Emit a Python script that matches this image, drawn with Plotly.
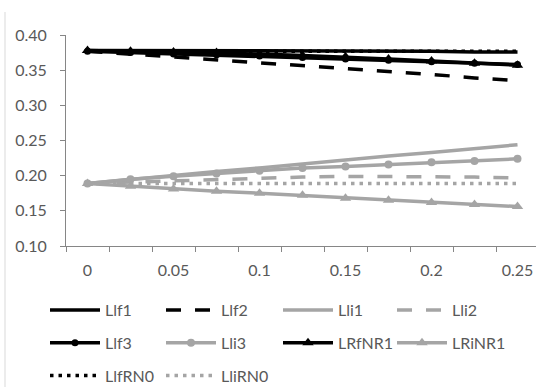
import plotly.graph_objects as go

# category values along the horizontal axis
x_vals = [0, 0.025, 0.05, 0.075, 0.1, 0.125, 0.15, 0.175, 0.2, 0.225, 0.25]
x_tick_vals = [0, 0.05, 0.1, 0.15, 0.2, 0.25]
x_tick_text = ["0", "0.05", "0.1", "0.15", "0.2", "0.25"]
y_tick_vals = [0.10, 0.15, 0.20, 0.25, 0.30, 0.35, 0.40]

# series
Llf1 = [0.378, 0.378, 0.378, 0.378, 0.378, 0.377, 0.377, 0.377, 0.377, 0.376, 0.376]
Llf2 = [0.377, 0.373, 0.369, 0.365, 0.361, 0.356, 0.352, 0.348, 0.344, 0.339, 0.335]
Lli1 = [0.189, 0.195, 0.200, 0.206, 0.211, 0.217, 0.222, 0.228, 0.233, 0.239, 0.244]
Lli2 = [0.189, 0.191, 0.193, 0.195, 0.197, 0.198, 0.199, 0.199, 0.199, 0.198, 0.197]
Llf3 = [0.377, 0.375, 0.373, 0.372, 0.370, 0.368, 0.366, 0.364, 0.362, 0.360, 0.358]
Lli3 = [0.189, 0.195, 0.199, 0.203, 0.207, 0.211, 0.213, 0.216, 0.219, 0.221, 0.224]
LRfNR1 = [0.378, 0.377, 0.376, 0.375, 0.373, 0.371, 0.369, 0.366, 0.363, 0.360, 0.357]
LRiNR1 = [0.189, 0.185, 0.181, 0.178, 0.175, 0.172, 0.168, 0.165, 0.162, 0.159, 0.156]
LlfRN0 = [0.377, 0.377, 0.377, 0.377, 0.377, 0.377, 0.377, 0.377, 0.377, 0.377, 0.377]
LliRN0 = [0.189, 0.189, 0.189, 0.189, 0.189, 0.189, 0.189, 0.189, 0.189, 0.189, 0.189]

BLACK = "#000000"
GREY = "#A5A5A5"
TEXT = "#595959"
AXIS = "#868686"
FONT = "Lato"
LW = 3.5
DASH = "15px,14px"
DOT = "3.5px,5px"

series = [
    # name, values, colour, dash, marker symbol, marker size, legend column
    ("Llf1", Llf1, BLACK, "solid", None, 0, "legend"),
    ("Llf2", Llf2, BLACK, DASH, None, 0, "legend2"),
    ("Lli1", Lli1, GREY, "solid", None, 0, "legend3"),
    ("Lli2", Lli2, GREY, DASH, None, 0, "legend4"),
    ("Llf3", Llf3, BLACK, "solid", "circle", 7, "legend"),
    ("Lli3", Lli3, GREY, "solid", "circle", 8, "legend2"),
    ("LRfNR1", LRfNR1, BLACK, "solid", "triangle-up", 10, "legend3"),
    ("LRiNR1", LRiNR1, GREY, "solid", "triangle-up", 10, "legend4"),
    ("LlfRN0", LlfRN0, BLACK, DOT, None, 0, "legend"),
    ("LliRN0", LliRN0, GREY, DOT, None, 0, "legend2"),
]

fig = go.Figure()
for name, vals, col, dash, sym, size, leg in series:
    kw = dict(mode="lines")
    if sym:
        kw = dict(mode="lines+markers",
                  marker=dict(symbol=sym, size=size, color=col, line=dict(width=0)))
    fig.add_trace(go.Scatter(
        x=x_vals, y=vals, name=name, legend=leg, legendgroup=name,
        line=dict(color=col, width=LW, dash=dash),
        **kw,
    ))

W, H = 536, 387
ML, MT = 66, 35
PB = 246  # bottom of plotting area in pixels

legend_common = dict(
    orientation="v", xref="container", yref="container",
    xanchor="left", yanchor="top",
    itemwidth=50, tracegroupgap=9,
    font=dict(family=FONT, size=16, color=TEXT),
    bgcolor="rgba(0,0,0,0)", borderwidth=0, traceorder="grouped",
)
LEG_TOP = 1 - 293 / H

fig.update_layout(
    width=W, height=H,
    margin=dict(l=ML, r=0, t=MT, b=H - PB, pad=0, autoexpand=False),
    paper_bgcolor="white", plot_bgcolor="white",
    font=dict(family=FONT, size=16, color=TEXT),
    showlegend=True,
    legend=dict(legend_common, x=45 / W, y=LEG_TOP),
    legend2=dict(legend_common, x=161 / W, y=LEG_TOP),
    legend3=dict(legend_common, x=278 / W, y=LEG_TOP),
    legend4=dict(legend_common, x=392 / W, y=LEG_TOP),
    xaxis=dict(
        range=[-0.0125, -0.0125 + (W - ML) / 1720],
        tickmode="array", tickvals=x_tick_vals, ticktext=x_tick_text,
        ticks="outside", ticklen=10, tickcolor="rgba(0,0,0,0)",
        showgrid=False, zeroline=False,
        showline=True, linecolor=AXIS, linewidth=1,
        tickfont=dict(family=FONT, size=16, color=TEXT),
        minor=dict(tick0=-0.0125, dtick=0.025, ticks="outside", ticklen=5,
                   tickcolor=AXIS, tickwidth=1, showgrid=False),
    ),
    yaxis=dict(
        range=[0.10, 0.40],
        tickmode="array", tickvals=y_tick_vals,
        tickformat=".2f",
        ticks="outside", ticklen=5, tickcolor=AXIS, tickwidth=1,
        showgrid=False, zeroline=False,
        showline=True, linecolor=AXIS, linewidth=1,
        tickfont=dict(family=FONT, size=16, color=TEXT),
        ticklabelstandoff=10,
    ),
)

# faint chart-area border on the left
fig.add_shape(type="line", xref="paper", yref="paper",
              x0=(5 - ML) / (W - ML), x1=(5 - ML) / (W - ML),
              y0=(PB - 12) / (PB - MT), y1=(PB - H) / (PB - MT),
              line=dict(color="#D9D9D9", width=1))

fig.write_html("out.html")
